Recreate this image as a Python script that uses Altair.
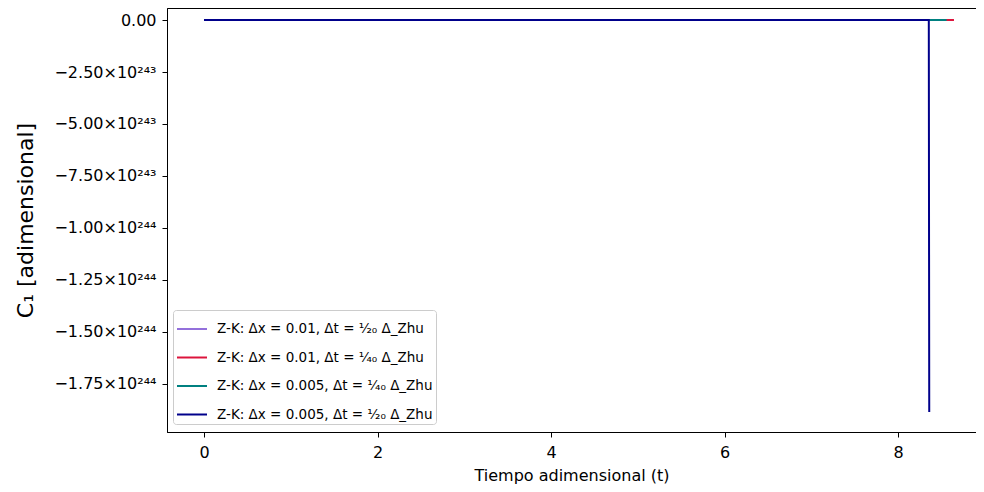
import altair as alt
import pandas as pd

series = [
    "Z-K: Δx = 0.01, Δt = ¹⁄₂₀ Δ_Zhu",
    "Z-K: Δx = 0.01, Δt = ¹⁄₄₀ Δ_Zhu",
    "Z-K: Δx = 0.005, Δt = ¹⁄₄₀ Δ_Zhu",
    "Z-K: Δx = 0.005, Δt = ¹⁄₂₀ Δ_Zhu",
]
colors = ["#9370DB", "#DC143C", "#008080", "#00008B"]

t_purple = [0.0, 8.50]
c_purple = [0.0, 0.0]
t_red = [0.0, 8.645]
c_red = [0.0, 0.0]
t_teal = [0.0, 8.56]
c_teal = [0.0, 0.0]
t_navy = [0.0, 8.355, 8.36]
c_navy = [0.0, 0.0, -1.885e244]

x_ticks = [0, 2, 4, 6, 8]
y_ticks = [0.0, -2.5e243, -5.0e243, -7.5e243, -1.0e244, -1.25e244, -1.5e244, -1.75e244]

rows = []
for name, ts, cs in zip(series, [t_purple, t_red, t_teal, t_navy], [c_purple, c_red, c_teal, c_navy]):
    for i, (t, c) in enumerate(zip(ts, cs)):
        rows.append({"series": name, "t": t, "c": c, "i": i})
df = pd.DataFrame(rows)

label_expr = (
    "datum.value == 0 ? '0.00' : (abs(datum.value) < 9.9e243 ? "
    "'−' + format(abs(datum.value)/1e243, '.2f') + '×10²⁴³' : "
    "'−' + format(abs(datum.value)/1e244, '.2f') + '×10²⁴⁴')"
)

chart = alt.Chart(df).mark_line(strokeWidth=2).encode(
    x=alt.X("t:Q", scale=alt.Scale(domain=[-0.4265, 8.899], nice=False, zero=False),
            axis=alt.Axis(values=x_ticks, title="Tiempo adimensional (t)", grid=False,
                          labelFontSize=16, titleFontSize=16, tickColor="black",
                          domainColor="black", labelColor="black", titleColor="black",
                          tickSize=5, labelPadding=7, titlePadding=7, labelFlush=False,
                          titleFontWeight="normal")),
    y=alt.Y("c:Q", scale=alt.Scale(domain=[-1.9808e244, 0.0577e244], nice=False, zero=False),
            axis=alt.Axis(values=y_ticks, labelExpr=label_expr, title="C₁ [adimensional]",
                          grid=False, labelFontSize=16, titleFontSize=22, tickColor="black",
                          domainColor="black", labelColor="black", titleColor="black",
                          tickSize=5, labelPadding=6, titlePadding=16, labelFlush=False,
                          titleFontWeight="normal")),
    color=alt.Color("series:N", scale=alt.Scale(domain=series, range=colors),
                    sort=series,
                    legend=alt.Legend(title=None, orient="none", legendX=6, legendY=302,
                                      symbolType="stroke", symbolStrokeWidth=2, symbolSize=900,
                                      labelFontSize=13.5, labelColor="black", strokeColor="#cccccc",
                                      fillColor="white", cornerRadius=3, padding=3, rowPadding=5.5,
                                      labelOffset=9, labelLimit=300)),
    detail="series:N",
    order="i:Q",
).properties(
    width=809, height=424,
    autosize=alt.AutoSizeParams(type="none"),
    padding={"left": 159, "top": 0, "right": 0, "bottom": 52},
).configure(font="DejaVu Sans").configure_view(stroke="black", strokeWidth=1)

chart.save("out.html", embed_options={"renderer": "svg", "actions": False})
